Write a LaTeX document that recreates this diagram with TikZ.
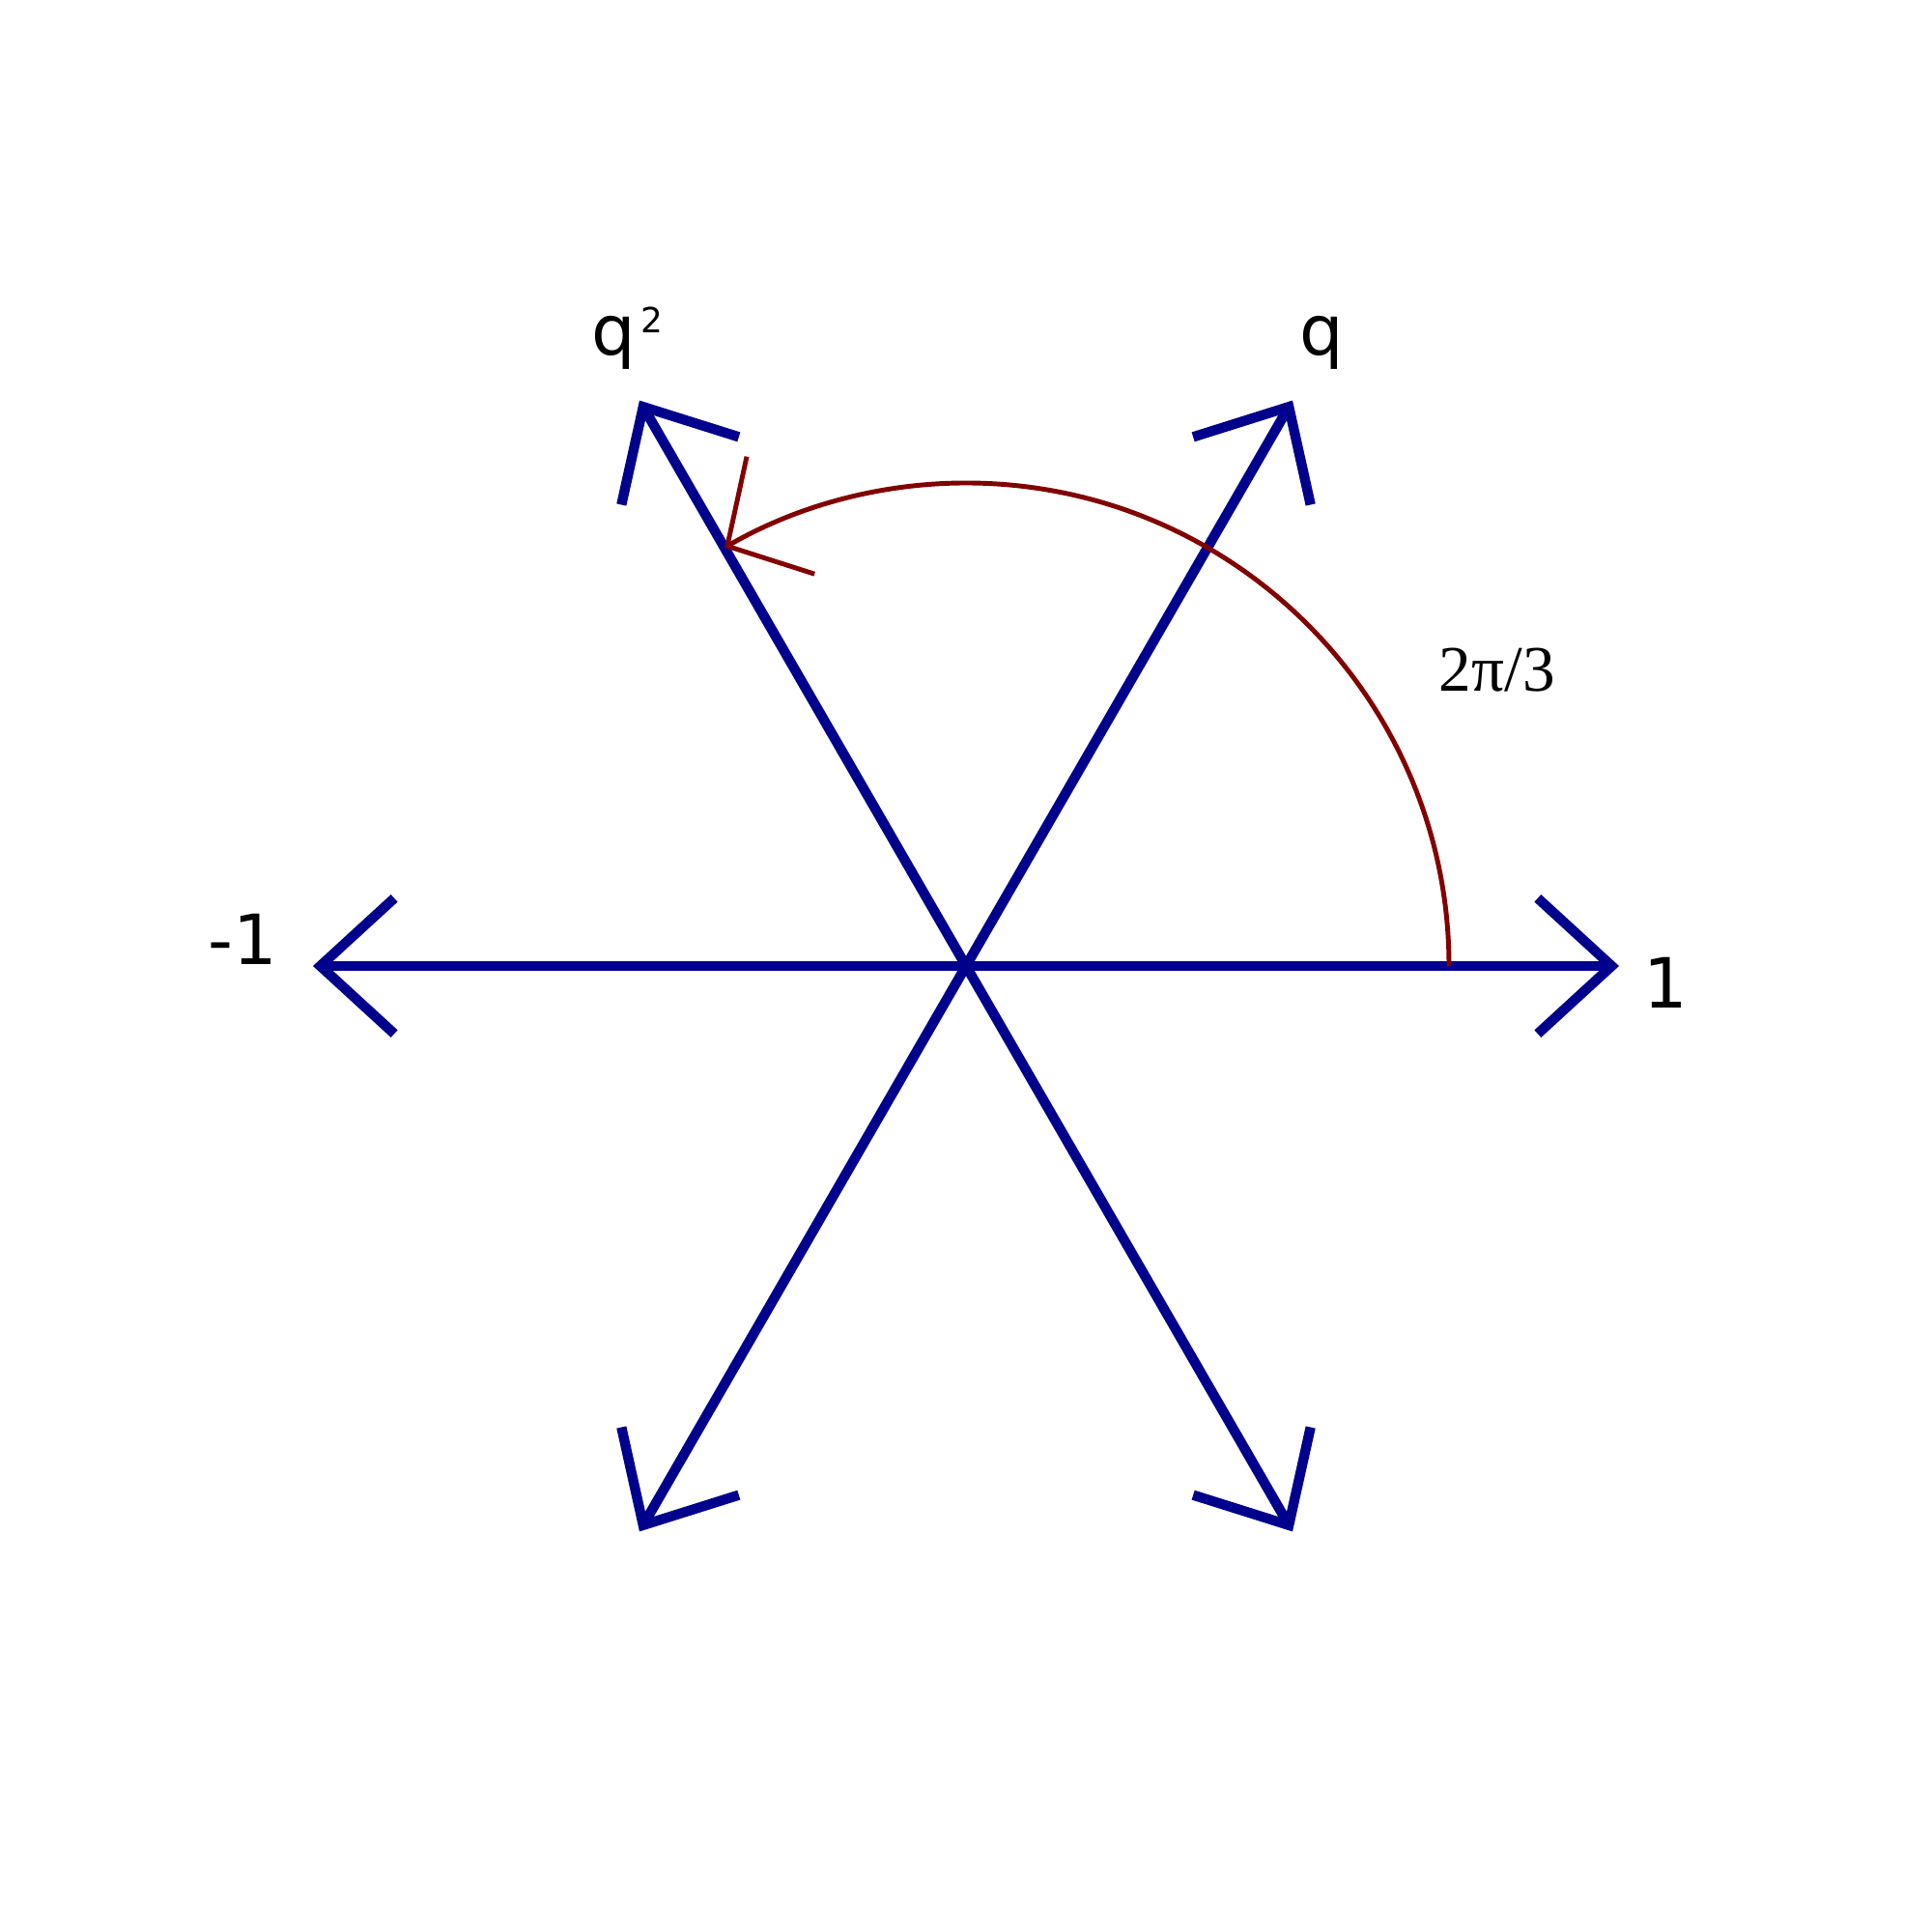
\documentclass[tikz,border=0pt]{standalone}
\usepackage{fontspec}
\setmainfont{DejaVu Sans}
\newfontfamily\anglefont{Liberation Serif}
\usetikzlibrary{arrows.meta}
\definecolor{rootblue}{RGB}{0,0,140}
\definecolor{anglered}{RGB}{130,0,0}
\tikzstyle{rootline}=[draw=rootblue,line width=2.3pt,-{Straight Barb[length=6mm,width=11mm,line width=2.3pt]}]
\tikzstyle{angleline}=[draw=anglered,line width=1.1pt,-{Straight Barb[length=5mm,width=11mm,line width=1.1pt]}]
\tikzstyle{rootlabel}=[font=\fontsize{16}{18}\selectfont,inner sep=0pt]

\begin{document}
\begin{tikzpicture}
    \useasboundingbox (-7.84,-7.84) rectangle (7.84,7.84);
    \coordinate (O) at (0,0);

    % Sixth roots of unity
    \foreach \a in {0,60,...,300}
        \draw[rootline] (O) -- (\a:5.3) coordinate (r\a);

    % Angle arc
    \draw[angleline] (3.92,0) arc (0:120:3.92);

    \node[rootlabel] (one) at (5.68,-0.14) {1};
    \node[rootlabel] (minusone) at (-5.87,0.22) {-1};
    \node[rootlabel] (q) at (2.89,5.06) {q};
    \node[rootlabel] (qsq) at (-2.86,5.06) {q};
    \node[inner sep=0pt,font=\fontsize{8}{9}\selectfont] (sq) at (-2.55,5.24) {2};
    \node[inner sep=0pt,font=\fontsize{15}{17}\anglefont] (angle) at (4.31,2.4) {2π/3};
\end{tikzpicture}
\end{document}
